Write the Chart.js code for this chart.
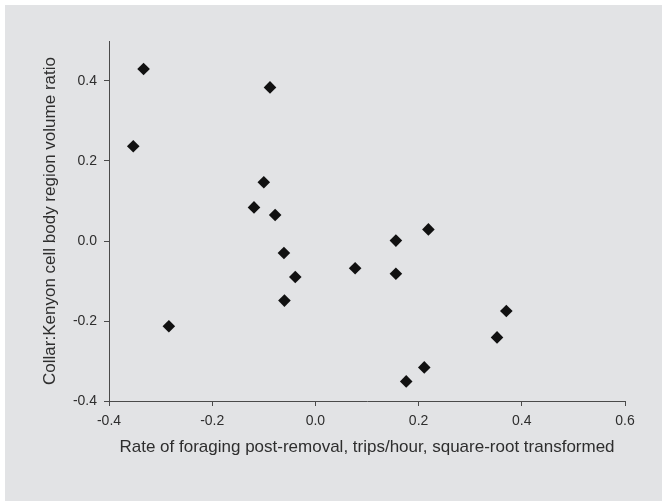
<!DOCTYPE html>
<html>
<head>
<meta charset="utf-8">
<script src="https://cdn.jsdelivr.net/npm/chart.js@4/dist/chart.umd.min.js"></script>
<style>
  html, body { margin: 0; padding: 0; background: #ffffff; }
  #wrap { width: 662px; height: 501px; }
</style>
</head>
<body>
<div id="wrap"><canvas id="c" width="662" height="501"></canvas></div>
<script>
// Data
const foragingRate = [-0.353, -0.333, -0.284, -0.119, -0.100, -0.088, -0.078, -0.061, -0.060, -0.039,
                      0.077, 0.156, 0.156, 0.219, 0.176, 0.211, 0.352, 0.370];
const volumeRatio  = [0.237, 0.430, -0.213, 0.084, 0.147, 0.384, 0.065, -0.030, -0.149, -0.090,
                      -0.068, 0.001, -0.082, 0.029, -0.351, -0.316, -0.241, -0.175];
const xTickValues = [-0.4, -0.2, 0.0, 0.2, 0.4, 0.6];
const yTickValues = [-0.4, -0.2, 0.0, 0.2, 0.4];
const xTitle = 'Rate of foraging post-removal, trips/hour, square-root transformed';
const yTitle = 'Collar:Kenyon cell body region volume ratio';

const points = foragingRate.map((x, i) => ({ x: x, y: volumeRatio[i] }));

const bgPlugin = {
  id: 'bg',
  beforeDraw(chart) {
    const ctx = chart.ctx;
    ctx.save();
    ctx.fillStyle = '#e2e3e5';
    ctx.fillRect(5, 5, chart.width - 5, chart.height - 5);
    ctx.restore();
  }
};

const axisColor = '#4a4a4a';
const textColor = '#2e2e2e';

new Chart(document.getElementById('c'), {
  type: 'scatter',
  data: {
    datasets: [{
      data: points,
      pointStyle: 'rectRot',
      pointRadius: 6.3,
      pointHoverRadius: 6.3,
      backgroundColor: '#111111',
      borderColor: '#111111',
      borderWidth: 0
    }]
  },
  options: {
    responsive: false,
    animation: false,
    events: [],
    layout: { padding: { top: 41, right: 37, bottom: 0, left: 0 } },
    plugins: { legend: { display: false }, tooltip: { enabled: false } },
    scales: {
      x: {
        type: 'linear',
        min: -0.4, max: 0.6,
        afterBuildTicks(scale) { scale.ticks = xTickValues.map(v => ({ value: v })); },
        afterFit(scale) { scale.height = 100; },
        border: { display: true, color: axisColor, width: 1 },
        grid: { drawOnChartArea: false, drawTicks: true, tickLength: 5, color: axisColor },
        ticks: {
          padding: 7, color: textColor, maxRotation: 0,
          font: { family: 'Liberation Sans, Arial, sans-serif', size: 14 },
          callback: v => v.toFixed(1)
        },
        title: {
          display: true, text: xTitle, color: textColor,
          font: { family: 'Liberation Sans, Arial, sans-serif', size: 17 },
          padding: { top: 0, bottom: 43 }
        }
      },
      y: {
        type: 'linear',
        min: -0.4, max: 0.5,
        afterBuildTicks(scale) { scale.ticks = yTickValues.map(v => ({ value: v })); },
        afterFit(scale) { scale.width = 109; },
        border: { display: true, color: axisColor, width: 1 },
        grid: { drawOnChartArea: false, drawTicks: true, tickLength: 5, color: axisColor },
        ticks: {
          padding: 7, color: textColor,
          font: { family: 'Liberation Sans, Arial, sans-serif', size: 14 },
          callback: v => v.toFixed(1)
        },
        title: {
          display: true, text: yTitle, color: textColor,
          font: { family: 'Liberation Sans, Arial, sans-serif', size: 17 },
          padding: { top: 40, bottom: 0 }
        }
      }
    }
  },
  plugins: [bgPlugin]
});
</script>
</body>
</html>
